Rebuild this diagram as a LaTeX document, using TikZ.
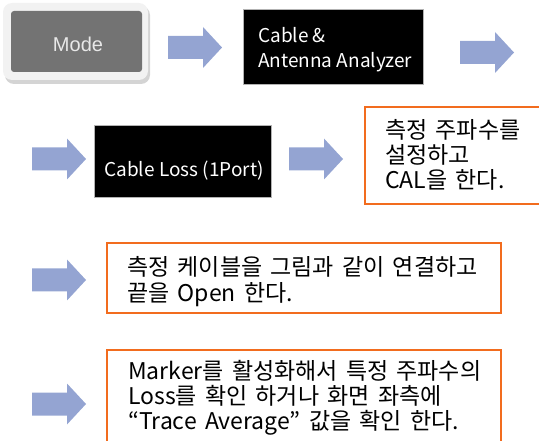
\documentclass[tikz,border=0pt]{standalone}
\usepackage{fontspec}
\setmainfont{Noto Sans CJK KR}
\newfontfamily\krf[WordSpace=1.6]{Noto Sans CJK KR}
\newfontfamily\modefont{Liberation Sans}
\newcommand\Lines[2]{\vtop{\baselineskip=#1\lineskiplimit=-40pt\lineskip=0pt #2}}
\definecolor{arrowblue}{RGB}{148,164,210}
\definecolor{boxorange}{RGB}{242,108,30}
\definecolor{modegray}{RGB}{115,115,115}
\definecolor{modeouter}{RGB}{242,242,242}
\definecolor{modeshadow}{RGB}{212,212,212}
\definecolor{modetext}{RGB}{232,232,232}
\tikzset{
  barrow/.pic={\fill[arrowblue] (0,-11.5) -- (35,-11.5) -- (35,-20.5) -- (54,0) -- (35,20.5) -- (35,11.5) -- (0,11.5) -- cycle;},
  blackbox/.style={fill=black, draw=gray!60, line width=0.8pt, anchor=north west, inner sep=0pt},
  notebox/.style={draw=boxorange, line width=2pt, anchor=north west, inner sep=0pt},
  txt/.style={anchor=base west, inner sep=0pt, font=\fontsize{19}{25.5}\selectfont},
  notetxt/.style={anchor=base west, inner sep=0pt, font=\krf\fontsize{23}{25.5}\selectfont},
}
\begin{document}
\begin{tikzpicture}[x=1pt,y=-1pt]
\useasboundingbox (0,0) rectangle (539,441);
\clip (0,0) rectangle (539,441);
% Mode button
\fill[modeshadow, rounded corners=9pt] (5,6) rectangle (150,84);
\fill[modeouter, rounded corners=9pt] (3,3) rectangle (148,80);
\node[fill=modegray, rounded corners=3pt, minimum width=131pt, minimum height=61pt, inner sep=0pt] (mode) at (76.5,41.5) {};
\node[anchor=base, inner sep=0pt, text=modetext, font=\modefont\fontsize{20}{22}\selectfont] (modetxt) at (78,51.5) {Mode};
% row 1
\pic at (168,47.5) {barrow};
\node[blackbox, minimum width=180pt, minimum height=75pt] (caa) at (243,9) {};
\node[txt, text=white] (caatxt) at (258,43) {\Lines{25pt}{\hbox{Cable \&}\hbox{Antenna Analyzer}}};
\pic at (460,52.5) {barrow};
% row 2
\pic at (32,159) {barrow};
\node[blackbox, minimum width=177pt, minimum height=72pt] (cl) at (94,125) {};
\node[txt, anchor=base, text=white] (cltxt) at (184,176.5) {Cable Loss (1Port)};
\pic at (289,159) {barrow};
\node[notebox, minimum width=185pt, minimum height=97pt] (n1) at (364,106) {};
\node[notetxt] (n1txt) at (385,138.5) {\Lines{25pt}{\hbox{측정 주파수를}\hbox{설정하고}\hbox{CAL을 한다.}}};
% row 3
\pic at (32,280) {barrow};
\node[notebox, minimum width=394pt, minimum height=70pt] (n2) at (106,242) {};
\node[notetxt] (n2txt) at (127,275.5) {\Lines{26.5pt}{\hbox{측정 케이블을 그림과 같이 연결하고}\hbox{끝을 Open 한다.}}};
% row 4
\pic at (32,404) {barrow};
\node[notebox, minimum width=394pt, minimum height=110pt] (n3) at (106,349) {};
\node[notetxt] (n3txt) at (128,379) {\Lines{25.5pt}{\hbox{Marker를 활성화해서 특정 주파수의}\hbox{Loss를 확인 하거나 화면 좌측에}\hbox{“Trace Average” 값을 확인 한다.}}};
\end{tikzpicture}
\end{document}
